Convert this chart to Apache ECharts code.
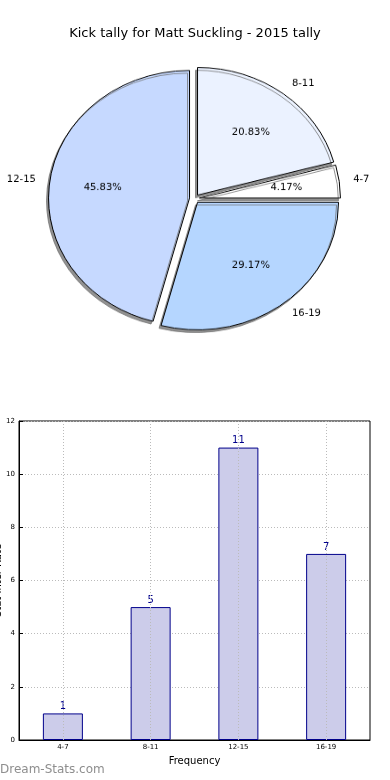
<!DOCTYPE html>
<html>
<head>
<meta charset="utf-8">
<script src="https://cdn.jsdelivr.net/npm/echarts@6/dist/echarts.min.js"></script>
<style>
html,body{margin:0;padding:0;background:#fff;}
#main{position:absolute;left:0;top:0;width:390px;height:780px;}
#pie{position:absolute;left:0;top:0;width:390px;height:440px;transform:scaleY(0.905);transform-origin:0 0;pointer-events:none;}
</style>
</head>
<body>
<div id="main"></div>
<div id="pie"></div>
<script>
// Data
var titleText = 'Kick tally for Matt Suckling - 2015 tally';
var categories = ['4-7', '8-11', '12-15', '16-19'];
var counts = [1, 5, 11, 7];
var pieColors = ['#ffffff', '#ebf2ff', '#c6d9ff', '#b5d6ff'];
var yTicks = [0, 2, 4, 6, 8, 10, 12];
var xAxisName = 'Frequency';
var yAxisName = 'Stat Inter Rate';
var watermark = 'Dream-Stats.com';

var FONT = 'DejaVu Sans';
var total = counts.reduce(function (a, b) { return a + b; }, 0);

var main = echarts.init(document.getElementById('main'), null, {renderer: 'canvas'});
main.setOption({
  animation: false,
  backgroundColor: '#fff',
  title: {
    text: titleText, left: 'center', top: 22,
    textStyle: {fontFamily: FONT, fontSize: 13, fontWeight: 'normal', color: '#000'}
  },
  graphic: [{
    type: 'text', left: 0, top: 764,
    style: {text: watermark, fill: '#8e8e8e', font: '12px "DejaVu Sans"'}
  }],
  grid: {left: 19, right: 20, top: 421, bottom: 40, outerBoundsMode: 'none', containLabel: false,
    show: true, borderColor: '#000', borderWidth: 1, backgroundColor: 'transparent'},
  xAxis: {
    type: 'category', data: categories,
    name: xAxisName, nameLocation: 'middle', nameGap: 16,
    nameTextStyle: {fontFamily: FONT, fontSize: 10, color: '#000'},
    axisLine: {lineStyle: {color: '#000'}},
    axisTick: {alignWithLabel: true, inside: true, length: 4, lineStyle: {color: '#000'}},
    axisLabel: {fontFamily: FONT, fontSize: 7, color: '#000', margin: 4},
    splitLine: {show: false}
  },
  yAxis: {
    type: 'value', min: 0, max: 12, interval: 2,
    name: yAxisName, nameLocation: 'middle', nameGap: 16, nameRotate: 90, nameMoveOverlap: false,
    nameTextStyle: {fontFamily: FONT, fontSize: 10, color: '#000'},
    axisLine: {show: true, lineStyle: {color: '#000'}},
    axisTick: {show: true, inside: true, length: 4, lineStyle: {color: '#000'}},
    axisLabel: {fontFamily: FONT, fontSize: 7, color: '#000', margin: 4,
      formatter: function (v) { return yTicks.indexOf(v) >= 0 ? String(v) : ''; }},
    splitLine: {show: true, lineStyle: {color: '#bbbbbb', type: [1, 2], width: 1}}
  },
  series: [{
    type: 'bar', data: counts, barWidth: 40,
    itemStyle: {color: '#ccccea', borderColor: '#00008b', borderWidth: 1},
    label: {show: true, position: 'top', distance: 2, fontFamily: FONT, fontSize: 10, color: '#00008b'},
    markLine: {
      silent: true, symbol: 'none', label: {show: false},
      lineStyle: {color: '#bbbbbb', type: [1, 2], width: 1},
      data: categories.map(function (c) { return {xAxis: c}; })
    }
  }]
});

var pie = echarts.init(document.getElementById('pie'), null, {renderer: 'canvas'});
var center = [194.5, 219.5];
var R = 141;
var off = 5;
function pieData(withColor) {
  return categories.map(function (c, i) {
    return {name: c, value: counts[i], selected: true,
      itemStyle: withColor ? {color: pieColors[i]} : {color: 'rgba(0,0,0,0)', borderWidth: 0}};
  });
}
pie.setOption({
  animation: false,
  series: [
    {
      type: 'pie', center: center, radius: [0, R], startAngle: 0, clockwise: false,
      selectedMode: 'multiple', selectedOffset: off, avoidLabelOverlap: false,
      itemStyle: {borderColor: '#000', borderWidth: 1, shadowColor: 'rgba(110,110,110,0.75)', shadowBlur: 0, shadowOffsetX: -2, shadowOffsetY: 3},
      label: {show: false}, labelLine: {show: false},
      emphasis: {disabled: true},
      data: pieData(true)
    },
    {
      type: 'pie', center: center, radius: [0.2 * R, R], startAngle: 0, clockwise: false,
      selectedMode: 'multiple', selectedOffset: off, avoidLabelOverlap: false, silent: true,
      label: {show: true, position: 'inside', fontFamily: FONT, fontSize: 10, color: '#000',
        formatter: function (p) { return (p.value / total * 100).toFixed(2) + '%'; }},
      labelLine: {show: false},
      emphasis: {disabled: true},
      data: pieData(false)
    },
    {
      type: 'pie', center: center, radius: [0, R], startAngle: 0, clockwise: false,
      selectedMode: 'multiple', selectedOffset: off, avoidLabelOverlap: false, silent: true,
      label: {show: true, position: 'outside', fontFamily: FONT, fontSize: 10, color: '#000',
        distanceToLabelLine: 0, formatter: '{b}'},
      labelLine: {show: false, length: 14, length2: 0},
      emphasis: {disabled: true},
      data: pieData(false)
    }
  ]
});
</script>
</body>
</html>
